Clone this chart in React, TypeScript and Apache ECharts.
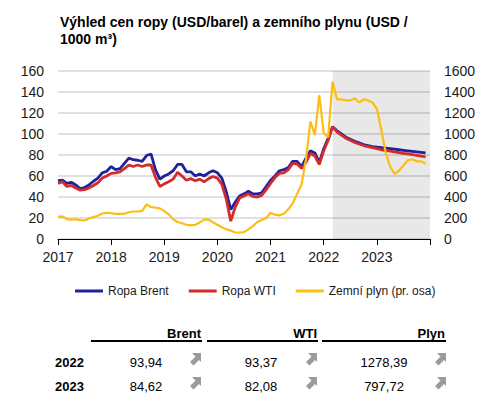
import React, { useEffect, useRef } from "react";
import * as echarts from "echarts";

const YEARS = ["2017", "2018", "2019", "2020", "2021", "2022", "2023"];

// Monthly values Jan 2017 – Dec 2023 (USD/barrel)
const BRENT = [
  55.5, 56, 53, 54, 51.5, 48, 49, 51.5, 55, 58, 63, 64.5,
  69, 66, 67, 72, 77, 75.5, 75, 74, 79.5, 81, 66, 57,
  60, 62, 65, 71, 71, 64, 64, 60, 62, 60, 63, 65,
  63, 58, 45, 28, 35, 41, 43, 45.5, 43, 43, 44, 50,
  56, 60, 65, 66, 68, 74, 74, 69, 77, 84, 82, 73,
  86, 96, 107, 103, 100, 97, 95, 93, 91.5, 90, 89, 88,
  87.5, 87, 86.5, 86, 85.5, 85, 84.5, 84, 83.5, 83, 82.5, 82,
];

const WTI = [
  53, 54.5, 50, 51, 48.5, 46.5, 47, 48.6, 51, 53.5, 58, 60,
  62.5, 63, 64, 67, 70.5, 69, 70.5, 69, 70.5, 70.5, 59, 50,
  52.5, 54.5, 57, 63.5, 60, 56, 57.5, 55.5, 57, 54.5, 57.5, 59.5,
  58, 52, 38, 17, 30, 39, 41, 43, 40.5, 40, 41.5, 47,
  53, 58.5, 62.5, 63, 66, 72, 71.5, 67.3, 73, 81.5, 79, 71,
  84, 94, 107, 102, 99, 96, 94, 92, 90.5, 89, 88, 87,
  86, 85, 84.3, 83.6, 83, 82.3, 81.6, 81, 80.3, 79.6, 79, 78.3,
];

// Natural gas (USD / 1000 m3), right axis
const GAS = [
  212, 215, 190, 185, 188, 180, 176, 195, 210, 222, 242, 250,
  245, 240, 240, 242, 255, 262, 262, 268, 330, 305, 298, 292,
  265, 235, 187, 162, 150, 135, 133, 135, 158, 185, 185, 160,
  135, 112, 92, 80, 62, 60, 65, 92, 122, 162, 182, 200,
  250, 232, 225, 240, 283, 340, 430, 520, 760, 1120, 990, 1370,
  1010, 970, 1500, 1330, 1330, 1320, 1320, 1340, 1300, 1330, 1320, 1300,
  1240, 1040, 820, 690, 620, 650, 700, 750, 760, 740, 740, 715,
];

const FORECAST_START = 62; // March 2022

const TABLE_HEADERS = ["Brent", "WTI", "Plyn"];
const TABLE_YEARS = ["2022", "2023"];
const TABLE_VALUES = [
  ["93,94", "93,37", "1278,39"],
  ["84,62", "82,08", "797,72"],
];

const FONT = '"Liberation Sans", Arial, Helvetica, sans-serif';
const C_BRENT = "#21219c";
const C_WTI = "#d42b2b";
const C_GAS = "#fdbe12";

export default function App() {
  const ref = useRef<HTMLDivElement>(null);

  useEffect(() => {
    if (!ref.current) return;
    const chart = echarts.init(ref.current, undefined, { renderer: "svg" });

    const colCenters = [146, 261, 384];
    const headerRight = [201, 317, 445];
    const ruleSeg = [
      [91, 202],
      [207, 318],
      [322, 446],
    ];
    const arrowX = [189, 305, 434];
    const rowY = [362, 386];
    const arrowPts = [
      [3, 0],
      [12, 0],
      [12, 9],
      [10, 7],
      [4.5, 12.5],
      [1, 9],
      [6.5, 3.5],
    ];

    const graphics: any[] = [
      {
        type: "text",
        x: 60,
        y: 22,
        style: {
          text: "Výhled cen ropy (USD/barel) a zemního plynu (USD /",
          fontFamily: FONT,
          fontSize: 14,
          fontWeight: "bold",
          fill: "#000",
          textVerticalAlign: "middle",
        },
      },
      {
        type: "text",
        x: 60,
        y: 39,
        style: {
          text: "1000 m³)",
          fontFamily: FONT,
          fontSize: 14,
          fontWeight: "bold",
          fill: "#000",
          textVerticalAlign: "middle",
        },
      },
    ];

    TABLE_HEADERS.forEach((h, k) => {
      graphics.push({
        type: "text",
        x: headerRight[k],
        y: 333,
        style: {
          text: h,
          fontFamily: FONT,
          fontSize: 13,
          fontWeight: "bold",
          fill: "#000",
          textAlign: "right",
          textVerticalAlign: "middle",
        },
      });
      graphics.push({
        type: "line",
        shape: { x1: ruleSeg[k][0], y1: 341, x2: ruleSeg[k][1], y2: 341 },
        style: { stroke: "#000", lineWidth: 2 },
      });
    });

    TABLE_YEARS.forEach((yr, r) => {
      graphics.push({
        type: "text",
        x: 55,
        y: rowY[r],
        style: {
          text: yr,
          fontFamily: FONT,
          fontSize: 13,
          fontWeight: "bold",
          fill: "#000",
          textVerticalAlign: "middle",
        },
      });
      TABLE_VALUES[r].forEach((v, k) => {
        graphics.push({
          type: "text",
          x: colCenters[k],
          y: rowY[r],
          style: {
            text: v,
            fontFamily: FONT,
            fontSize: 13,
            fill: "#000",
            textAlign: "center",
            textVerticalAlign: "middle",
          },
        });
        graphics.push({
          type: "polygon",
          x: arrowX[k],
          y: rowY[r] - 9,
          shape: { points: arrowPts },
          style: { fill: "#9b9b9b" },
        });
      });
    });

    const toPts = (arr: number[]) => arr.map((v, i) => [i, v]);

    chart.setOption({
      animation: false,
      backgroundColor: "#fff",
      textStyle: { fontFamily: FONT },
      grid: { left: 58, right: 54, top: 71, bottom: 175, containLabel: false },
      legend: {
        left: 75,
        top: 285,
        padding: 0,
        icon: "rect",
        itemWidth: 28,
        itemHeight: 3,
        itemGap: 20,
        textStyle: { fontFamily: FONT, fontSize: 12, color: "#1a1a1a" },
        data: ["Ropa Brent", "Ropa WTI", "Zemní plyn (pr. osa)"],
      },
      xAxis: {
        type: "value",
        min: 0,
        max: 84,
        interval: 12,
        axisLine: { show: true, lineStyle: { color: "#000", width: 1 } },
        axisTick: { show: true, length: 6, lineStyle: { color: "#000" } },
        splitLine: { show: false },
        axisLabel: {
          fontSize: 14,
          color: "#1a1a1a",
          margin: 11,
          formatter: (v: number) => YEARS[Math.round(v / 12)] ?? "",
        },
      },
      yAxis: [
        {
          type: "value",
          min: 0,
          max: 160,
          interval: 20,
          axisLine: { show: false },
          axisTick: { show: false },
          splitLine: { lineStyle: { color: "#d6d6d6", width: 1.5 } },
          axisLabel: { fontSize: 14, color: "#1a1a1a", margin: 14 },
        },
        {
          type: "value",
          min: 0,
          max: 1600,
          interval: 200,
          position: "right",
          axisLine: { show: false },
          axisTick: { show: false },
          splitLine: { show: false },
          axisLabel: {
            fontSize: 14,
            color: "#1a1a1a",
            margin: 14,
            formatter: (v: number) => String(v),
          },
        },
      ],
      series: [
        {
          name: "Ropa Brent",
          type: "line",
          data: toPts(BRENT),
          showSymbol: false,
          symbol: "none",
          lineStyle: { color: C_BRENT, width: 2.8 },
          itemStyle: { color: C_BRENT },
          z: 3,
          markArea: {
            silent: true,
            itemStyle: { color: "rgba(0,0,0,0.09)" },
            data: [[{ xAxis: FORECAST_START }, { xAxis: 84 }]],
          },
        },
        {
          name: "Ropa WTI",
          type: "line",
          data: toPts(WTI),
          showSymbol: false,
          symbol: "none",
          lineStyle: { color: C_WTI, width: 2.8 },
          itemStyle: { color: C_WTI },
          z: 4,
        },
        {
          name: "Zemní plyn (pr. osa)",
          type: "line",
          yAxisIndex: 1,
          data: toPts(GAS),
          showSymbol: false,
          symbol: "none",
          lineStyle: { color: C_GAS, width: 2.2 },
          itemStyle: { color: C_GAS },
          z: 5,
        },
      ],
      graphic: graphics,
    });

    return () => chart.dispose();
  }, []);

  return (
    <div
      ref={ref}
      style={{ position: "fixed", left: 0, top: 0, width: 484, height: 414 }}
    />
  );
}
